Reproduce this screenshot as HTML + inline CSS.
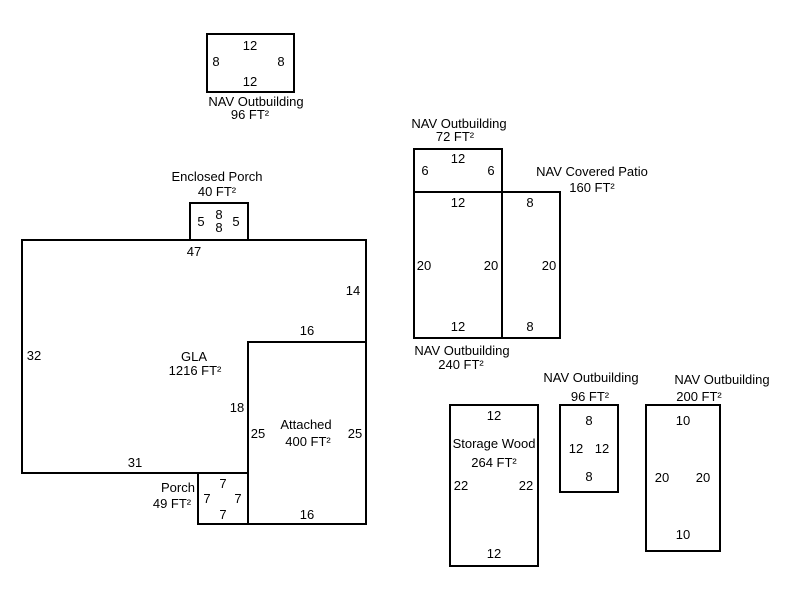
<!DOCTYPE html>
<html><head><style>body{margin:0;background:#fff}</style></head><body>
<svg width="800" height="600" xmlns="http://www.w3.org/2000/svg" font-family="Liberation Sans, Arial, sans-serif" font-size="13" fill="#000">
<rect width="800" height="600" fill="#fff"/>
<g fill="none" stroke="#000" stroke-width="2">
<rect x="207" y="34" width="87" height="58"/>
<path d="M22 240 H366 V524 H198 V473 H22 Z"/>
<path d="M248 473 V342 H366"/>
<path d="M198 473 H248 V524"/>
<rect x="190" y="203" width="58" height="37"/>
<rect x="414" y="149" width="88" height="43"/>
<rect x="414" y="192" width="88" height="146"/>
<rect x="502" y="192" width="58" height="146"/>
<rect x="450" y="405" width="88" height="161"/>
<rect x="560" y="405" width="58" height="87"/>
<rect x="646" y="405" width="74" height="146"/>
</g>
<g text-anchor="middle">
<text x="250" y="50">12</text><text x="216" y="66">8</text><text x="281" y="66">8</text><text x="250" y="86">12</text>
<text x="256" y="106">NAV Outbuilding</text><text x="250" y="119">96 FT²</text>
<text x="217" y="181">Enclosed Porch</text><text x="217" y="196">40 FT²</text>
<text x="201" y="226">5</text><text x="219" y="219">8</text><text x="219" y="232">8</text><text x="236" y="226">5</text>
<text x="194" y="256">47</text><text x="353" y="295">14</text><text x="307" y="335">16</text>
<text x="34" y="360">32</text><text x="194" y="361">GLA</text><text x="195" y="375">1216 FT²</text>
<text x="237" y="412">18</text><text x="258" y="438">25</text><text x="306" y="429">Attached</text><text x="308" y="446">400 FT²</text><text x="355" y="438">25</text>
<text x="135" y="467">31</text>
<text x="178" y="492">Porch</text><text x="172" y="508">49 FT²</text>
<text x="223" y="488">7</text><text x="207" y="503">7</text><text x="238" y="503">7</text><text x="223" y="519">7</text>
<text x="307" y="519">16</text>
<text x="459" y="128">NAV Outbuilding</text><text x="455" y="141">72 FT²</text>
<text x="458" y="163">12</text><text x="425" y="175">6</text><text x="491" y="175">6</text>
<text x="592" y="176">NAV Covered Patio</text><text x="592" y="192">160 FT²</text>
<text x="458" y="207">12</text><text x="530" y="207">8</text>
<text x="424" y="270">20</text><text x="491" y="270">20</text><text x="549" y="270">20</text>
<text x="458" y="331">12</text><text x="530" y="331">8</text>
<text x="462" y="355">NAV Outbuilding</text><text x="461" y="369">240 FT²</text>
<text x="591" y="382">NAV Outbuilding</text><text x="590" y="401">96 FT²</text>
<text x="722" y="384">NAV Outbuilding</text><text x="699" y="401">200 FT²</text>
<text x="494" y="420">12</text><text x="494" y="448">Storage Wood</text><text x="494" y="467">264 FT²</text>
<text x="461" y="490">22</text><text x="526" y="490">22</text><text x="494" y="558">12</text>
<text x="589" y="425">8</text><text x="576" y="453">12</text><text x="602" y="453">12</text><text x="589" y="481">8</text>
<text x="683" y="425">10</text><text x="662" y="482">20</text><text x="703" y="482">20</text><text x="683" y="539">10</text>
</g>
</svg>
</body></html>
